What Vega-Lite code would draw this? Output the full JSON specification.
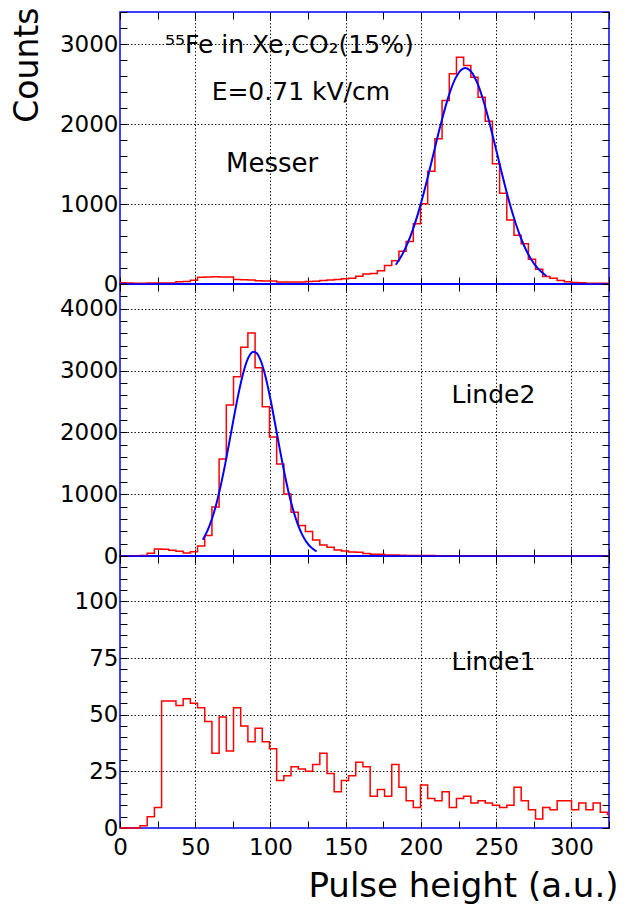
{
  "$schema": "https://vega.github.io/schema/vega-lite/v6.json",
  "background": "white",
  "padding": {"left": 10, "top": 0, "right": 0, "bottom": 0},
  "spacing": 0,
  "bounds": "flush",
  "config": {
    "view": {"stroke": "#0000ff", "strokeWidth": 1.5},
    "font": "DejaVu Sans",
    "axis": {
      "domain": false,
      "tickColor": "black",
      "tickWidth": 1,
      "tickSize": -7,
      "labelFont": "DejaVu Sans",
      "labelFontSize": 23,
      "labelColor": "black",
      "labelOverlap": false,
      "labelFlush": false,
      "gridColor": "black",
      "gridDash": [1.5, 2],
      "gridWidth": 1,
      "titleFont": "DejaVu Sans",
      "titleFontSize": 33,
      "titleFontWeight": "normal",
      "titleColor": "black"
    }
  },
  "datasets": {
    "messer": [
      {"x": 0, "v": 15}, {"x": 3.74, "v": 12}, {"x": 8.52, "v": 10}, {"x": 13.3, "v": 10}, {"x": 18.08, "v": 12},
      {"x": 22.86, "v": 12}, {"x": 27.64, "v": 14}, {"x": 32.42, "v": 14}, {"x": 37.2, "v": 28}, {"x": 41.98, "v": 32},
      {"x": 46.76, "v": 46}, {"x": 51.54, "v": 85}, {"x": 56.32, "v": 88}, {"x": 61.1, "v": 90}, {"x": 65.88, "v": 88},
      {"x": 70.66, "v": 88}, {"x": 75.44, "v": 56}, {"x": 80.22, "v": 52}, {"x": 85, "v": 50}, {"x": 89.78, "v": 40},
      {"x": 94.56, "v": 38}, {"x": 99.34, "v": 36}, {"x": 104.12, "v": 26}, {"x": 108.9, "v": 25}, {"x": 113.68, "v": 25},
      {"x": 118.46, "v": 24}, {"x": 123.24, "v": 30}, {"x": 128.02, "v": 33}, {"x": 132.8, "v": 45}, {"x": 137.58, "v": 50},
      {"x": 142.36, "v": 55}, {"x": 147.14, "v": 65}, {"x": 151.92, "v": 72}, {"x": 156.7, "v": 96}, {"x": 161.48, "v": 125},
      {"x": 166.26, "v": 130}, {"x": 171.04, "v": 165}, {"x": 175.82, "v": 230}, {"x": 180.6, "v": 290}, {"x": 185.38, "v": 410},
      {"x": 190.16, "v": 530}, {"x": 194.94, "v": 752}, {"x": 199.72, "v": 1002}, {"x": 204.5, "v": 1410}, {"x": 209.28, "v": 1815},
      {"x": 214.06, "v": 2294}, {"x": 218.84, "v": 2627}, {"x": 223.62, "v": 2835}, {"x": 228.4, "v": 2731}, {"x": 233.18, "v": 2585},
      {"x": 237.96, "v": 2335}, {"x": 242.74, "v": 2035}, {"x": 247.52, "v": 1502}, {"x": 252.3, "v": 1135}, {"x": 257.08, "v": 800},
      {"x": 261.86, "v": 610}, {"x": 266.64, "v": 502}, {"x": 271.42, "v": 310}, {"x": 276.2, "v": 185}, {"x": 280.98, "v": 94},
      {"x": 285.76, "v": 73}, {"x": 290.54, "v": 44}, {"x": 295.32, "v": 27}, {"x": 300.1, "v": 20}, {"x": 304.88, "v": 15},
      {"x": 309.66, "v": 10}, {"x": 314.44, "v": 10}, {"x": 319.22, "v": 8}, {"x": 324, "v": 8}, {"x": 325, "v": 8}
    ],
    "linde2": [
      {"x": 0, "v": 5}, {"x": 3.74, "v": 5}, {"x": 8.52, "v": 5}, {"x": 13.3, "v": 8}, {"x": 18.08, "v": 43},
      {"x": 22.86, "v": 114}, {"x": 27.64, "v": 110}, {"x": 32.42, "v": 92}, {"x": 37.2, "v": 75}, {"x": 41.98, "v": 50},
      {"x": 46.76, "v": 68}, {"x": 51.54, "v": 162}, {"x": 56.32, "v": 330}, {"x": 61.1, "v": 791}, {"x": 65.88, "v": 1571},
      {"x": 70.66, "v": 2444}, {"x": 75.44, "v": 2899}, {"x": 80.22, "v": 3376}, {"x": 85, "v": 3609}, {"x": 89.78, "v": 3044},
      {"x": 94.56, "v": 2415}, {"x": 99.34, "v": 1923}, {"x": 104.12, "v": 1490}, {"x": 108.9, "v": 1002}, {"x": 113.68, "v": 709},
      {"x": 118.46, "v": 492}, {"x": 123.24, "v": 395}, {"x": 128.02, "v": 259}, {"x": 132.8, "v": 178}, {"x": 137.58, "v": 141},
      {"x": 142.36, "v": 96}, {"x": 147.14, "v": 80}, {"x": 151.92, "v": 65}, {"x": 156.7, "v": 60}, {"x": 161.48, "v": 40},
      {"x": 166.26, "v": 30}, {"x": 171.04, "v": 27}, {"x": 175.82, "v": 18}, {"x": 180.6, "v": 15}, {"x": 185.38, "v": 12},
      {"x": 190.16, "v": 10}, {"x": 194.94, "v": 10}, {"x": 199.72, "v": 8}, {"x": 204.5, "v": 8}, {"x": 209.28, "v": 6},
      {"x": 214.06, "v": 5}, {"x": 218.84, "v": 5}, {"x": 223.62, "v": 5}, {"x": 228.4, "v": 4}, {"x": 233.18, "v": 4},
      {"x": 237.96, "v": 4}, {"x": 242.74, "v": 4}, {"x": 247.52, "v": 4}, {"x": 252.3, "v": 4}, {"x": 257.08, "v": 3},
      {"x": 261.86, "v": 3}, {"x": 266.64, "v": 3}, {"x": 271.42, "v": 3}, {"x": 276.2, "v": 3}, {"x": 280.98, "v": 3},
      {"x": 285.76, "v": 3}, {"x": 290.54, "v": 3}, {"x": 295.32, "v": 3}, {"x": 300.1, "v": 3}, {"x": 304.88, "v": 3},
      {"x": 309.66, "v": 3}, {"x": 314.44, "v": 3}, {"x": 319.22, "v": 3}, {"x": 324, "v": 3}, {"x": 325, "v": 3}
    ],
    "linde1": [
      {"x": 0, "v": 0}, {"x": 3.74, "v": 0}, {"x": 8.52, "v": 0}, {"x": 13.3, "v": 1}, {"x": 18.08, "v": 5},
      {"x": 22.86, "v": 9}, {"x": 27.64, "v": 56}, {"x": 32.42, "v": 56}, {"x": 37.2, "v": 54}, {"x": 41.98, "v": 57},
      {"x": 46.76, "v": 55}, {"x": 51.54, "v": 53}, {"x": 56.32, "v": 47}, {"x": 61.1, "v": 33}, {"x": 65.88, "v": 49},
      {"x": 70.66, "v": 34}, {"x": 75.44, "v": 53}, {"x": 80.22, "v": 45}, {"x": 85, "v": 38}, {"x": 89.78, "v": 44},
      {"x": 94.56, "v": 38}, {"x": 99.34, "v": 35}, {"x": 104.12, "v": 21}, {"x": 108.9, "v": 23}, {"x": 113.68, "v": 27},
      {"x": 118.46, "v": 26}, {"x": 123.24, "v": 25}, {"x": 128.02, "v": 28}, {"x": 132.8, "v": 33}, {"x": 137.58, "v": 24},
      {"x": 142.36, "v": 16}, {"x": 147.14, "v": 21}, {"x": 151.92, "v": 23}, {"x": 156.7, "v": 29}, {"x": 161.48, "v": 27},
      {"x": 166.26, "v": 14}, {"x": 171.04, "v": 17}, {"x": 175.82, "v": 14}, {"x": 180.6, "v": 28}, {"x": 185.38, "v": 18},
      {"x": 190.16, "v": 12}, {"x": 194.94, "v": 9}, {"x": 199.72, "v": 19}, {"x": 204.5, "v": 13}, {"x": 209.28, "v": 12},
      {"x": 214.06, "v": 16}, {"x": 218.84, "v": 9}, {"x": 223.62, "v": 13}, {"x": 228.4, "v": 14}, {"x": 233.18, "v": 11},
      {"x": 237.96, "v": 12}, {"x": 242.74, "v": 11}, {"x": 247.52, "v": 10}, {"x": 252.3, "v": 9}, {"x": 257.08, "v": 10},
      {"x": 261.86, "v": 18}, {"x": 266.64, "v": 12}, {"x": 271.42, "v": 8}, {"x": 276.2, "v": 4}, {"x": 280.98, "v": 9},
      {"x": 285.76, "v": 8}, {"x": 290.54, "v": 12}, {"x": 295.32, "v": 12}, {"x": 300.1, "v": 8}, {"x": 304.88, "v": 11},
      {"x": 309.66, "v": 8}, {"x": 314.44, "v": 11}, {"x": 319.22, "v": 7}, {"x": 324, "v": 6}, {"x": 325, "v": 6}
    ],
    "fitMesser": [
      {"x": 183.3, "v": 240}, {"x": 188, "v": 383}, {"x": 193, "v": 596}, {"x": 198, "v": 877}, {"x": 203, "v": 1218},
      {"x": 208, "v": 1599}, {"x": 213, "v": 1983}, {"x": 218, "v": 2324}, {"x": 223, "v": 2573}, {"x": 228, "v": 2693},
      {"x": 229.5, "v": 2700}, {"x": 233, "v": 2663}, {"x": 238, "v": 2488}, {"x": 243, "v": 2196}, {"x": 248, "v": 1832},
      {"x": 253, "v": 1444}, {"x": 258, "v": 1075}, {"x": 263, "v": 757}, {"x": 268, "v": 503}, {"x": 273, "v": 316},
      {"x": 278, "v": 188}, {"x": 283.4, "v": 100}
    ],
    "fitLinde2": [
      {"x": 55, "v": 262}, {"x": 58, "v": 402}, {"x": 61, "v": 592}, {"x": 64, "v": 839}, {"x": 67, "v": 1144},
      {"x": 70, "v": 1498}, {"x": 73, "v": 1886}, {"x": 76, "v": 2282}, {"x": 79, "v": 2655}, {"x": 82, "v": 2969},
      {"x": 85, "v": 3192}, {"x": 88, "v": 3299}, {"x": 89, "v": 3306}, {"x": 91, "v": 3277}, {"x": 94, "v": 3130},
      {"x": 97, "v": 2873}, {"x": 100, "v": 2536}, {"x": 103, "v": 2151}, {"x": 106, "v": 1754}, {"x": 109, "v": 1375},
      {"x": 112, "v": 1036}, {"x": 115, "v": 751}, {"x": 118, "v": 523}, {"x": 121, "v": 350}, {"x": 124, "v": 225},
      {"x": 127, "v": 139}, {"x": 130.7, "v": 73}
    ]
  },
  "vconcat": [
    {
      "width": 489,
      "height": 272,
      "resolve": {"axis": {"x": "independent", "y": "independent"}},
      "layer": [
        {
          "data": {"values": [{}]},
          "mark": {"type": "rule", "color": "#0000ff", "strokeWidth": 2},
          "encoding": {"y": {"datum": 0, "type": "quantitative", "axis": null}}
        },
        {
          "data": {"name": "messer"},
          "mark": {"type": "line", "interpolate": "step-after", "color": "#ff0000", "strokeWidth": 1.5},
          "encoding": {
            "x": {"field": "x", "type": "quantitative", "scale": {"domain": [0, 325], "nice": false, "zero": false},
              "axis": {"orient": "bottom", "values": [0,25,50,75,100,125,150,175,200,225,250,275,300,325], "labels": false, "title": null, "grid": true,
                "gridOpacity": {"condition": {"test": "datum.value % 50 === 0 && datum.value > 0 && datum.value < 325", "value": 0.9}, "value": 0}}},
            "y": {"field": "v", "type": "quantitative", "scale": {"domain": [0, 3400], "nice": false},
              "axis": {"orient": "left", "values": [0,200,400,600,800,1000,1200,1400,1600,1800,2000,2200,2400,2600,2800,3000,3200,3400], "format": "d",
                "labelExpr": "datum.value % 1000 === 0 ? datum.label : ''", "labelPadding": 9, "grid": true,
                "gridOpacity": {"condition": {"test": "datum.value % 1000 === 0 && datum.value > 0", "value": 0.9}, "value": 0},
                "title": "Counts", "titleX": -83, "titleY": -5, "titleAngle": 270, "titleAlign": "right", "titleBaseline": "alphabetic"}}
          }
        },
        {
          "data": {"name": "fitMesser"},
          "mark": {"type": "line", "interpolate": "monotone", "color": "#0000ff", "strokeWidth": 2},
          "encoding": {
            "x": {"field": "x", "type": "quantitative", "axis": null},
            "y": {"field": "v", "type": "quantitative", "axis": null}
          }
        },
        {
          "data": {"values": [{}]},
          "mark": {"type": "text", "align": "left", "baseline": "alphabetic", "fontSize": 25, "font": "DejaVu Sans", "color": "black"},
          "encoding": {
            "x": {"datum": 29.9, "type": "quantitative",
              "axis": {"orient": "top", "values": [0,25,50,75,100,125,150,175,200,225,250,275,300,325], "labels": false, "grid": false, "title": null}},
            "y": {"datum": 2890, "type": "quantitative",
              "axis": {"orient": "right", "values": [0,200,400,600,800,1000,1200,1400,1600,1800,2000,2200,2400,2600,2800,3000,3200,3400], "labels": false, "grid": false, "title": null}},
            "text": {"value": "⁵⁵Fe in Xe,CO₂(15%)"}
          }
        },
        {
          "data": {"values": [{}]},
          "mark": {"type": "text", "align": "left", "baseline": "alphabetic", "fontSize": 25, "font": "DejaVu Sans", "color": "black"},
          "encoding": {
            "x": {"datum": 60.9, "type": "quantitative", "axis": null},
            "y": {"datum": 2294, "type": "quantitative", "axis": null},
            "text": {"value": "E=0.71 kV/cm"}
          }
        },
        {
          "data": {"values": [{}]},
          "mark": {"type": "text", "align": "left", "baseline": "alphabetic", "fontSize": 26, "font": "DejaVu Sans", "color": "black"},
          "encoding": {
            "x": {"datum": 70.5, "type": "quantitative", "axis": null},
            "y": {"datum": 1398, "type": "quantitative", "axis": null},
            "text": {"value": "Messer"}
          }
        }
      ]
    },
    {
      "width": 489,
      "height": 272,
      "resolve": {"axis": {"x": "independent", "y": "independent"}},
      "layer": [
        {
          "data": {"values": [{}]},
          "mark": {"type": "rule", "color": "#0000ff", "strokeWidth": 2},
          "encoding": {"y": {"datum": 0, "type": "quantitative", "axis": null}}
        },
        {
          "data": {"name": "linde2"},
          "mark": {"type": "line", "interpolate": "step-after", "color": "#ff0000", "strokeWidth": 1.5},
          "encoding": {
            "x": {"field": "x", "type": "quantitative", "scale": {"domain": [0, 325], "nice": false, "zero": false},
              "axis": {"orient": "bottom", "values": [0,25,50,75,100,125,150,175,200,225,250,275,300,325], "labels": false, "title": null, "grid": true,
                "gridOpacity": {"condition": {"test": "datum.value % 50 === 0 && datum.value > 0 && datum.value < 325", "value": 0.9}, "value": 0}}},
            "y": {"field": "v", "type": "quantitative", "scale": {"domain": [0, 4400], "nice": false},
              "axis": {"orient": "left", "values": [0,200,400,600,800,1000,1200,1400,1600,1800,2000,2200,2400,2600,2800,3000,3200,3400,3600,3800,4000,4200,4400], "format": "d",
                "labelExpr": "datum.value % 1000 === 0 ? datum.label : ''", "labelPadding": 9, "grid": true,
                "gridOpacity": {"condition": {"test": "datum.value % 1000 === 0 && datum.value > 0", "value": 0.9}, "value": 0},
                "title": null}}
          }
        },
        {
          "data": {"name": "fitLinde2"},
          "mark": {"type": "line", "interpolate": "monotone", "color": "#0000ff", "strokeWidth": 2},
          "encoding": {
            "x": {"field": "x", "type": "quantitative", "axis": null},
            "y": {"field": "v", "type": "quantitative", "axis": null}
          }
        },
        {
          "data": {"values": [{}]},
          "mark": {"type": "text", "align": "left", "baseline": "alphabetic", "fontSize": 25, "font": "DejaVu Sans", "color": "black"},
          "encoding": {
            "x": {"datum": 220.3, "type": "quantitative",
              "axis": {"orient": "top", "values": [0,25,50,75,100,125,150,175,200,225,250,275,300,325], "labels": false, "grid": false, "title": null}},
            "y": {"datum": 2481, "type": "quantitative",
              "axis": {"orient": "right", "values": [0,200,400,600,800,1000,1200,1400,1600,1800,2000,2200,2400,2600,2800,3000,3200,3400,3600,3800,4000,4200,4400], "labels": false, "grid": false, "title": null}},
            "text": {"value": "Linde2"}
          }
        }
      ]
    },
    {
      "width": 489,
      "height": 272,
      "resolve": {"axis": {"x": "independent", "y": "independent"}},
      "layer": [
        {
          "data": {"name": "linde1"},
          "mark": {"type": "line", "interpolate": "step-after", "color": "#ff0000", "strokeWidth": 1.5},
          "encoding": {
            "x": {"field": "x", "type": "quantitative", "scale": {"domain": [0, 325], "nice": false, "zero": false},
              "axis": {"orient": "bottom", "values": [0,25,50,75,100,125,150,175,200,225,250,275,300,325], "format": "d",
                "labelExpr": "datum.value % 50 === 0 ? datum.label : ''", "labelPadding": 15, "grid": true,
                "gridOpacity": {"condition": {"test": "datum.value % 50 === 0 && datum.value > 0 && datum.value < 325", "value": 0.9}, "value": 0},
                "title": "Pulse height (a.u.)", "titleFontSize": 34, "titleX": 498, "titleY": 68, "titleAlign": "right", "titleBaseline": "alphabetic", "titleAnchor": "end"}},
            "y": {"field": "v", "type": "quantitative", "scale": {"domain": [0, 120], "nice": false},
              "axis": {"orient": "left", "values": [0,5,10,15,20,25,30,35,40,45,50,55,60,65,70,75,80,85,90,95,100,105,110,115,120], "format": "d",
                "labelExpr": "datum.value % 25 === 0 ? datum.label : ''", "labelPadding": 9, "grid": true,
                "gridOpacity": {"condition": {"test": "datum.value % 25 === 0 && datum.value > 0", "value": 0.9}, "value": 0},
                "title": null}}
          }
        },
        {
          "data": {"values": [{}]},
          "mark": {"type": "text", "align": "left", "baseline": "alphabetic", "fontSize": 25, "font": "DejaVu Sans", "color": "black"},
          "encoding": {
            "x": {"datum": 220.3, "type": "quantitative",
              "axis": {"orient": "top", "values": [0,25,50,75,100,125,150,175,200,225,250,275,300,325], "labels": false, "grid": false, "title": null}},
            "y": {"datum": 69.6, "type": "quantitative",
              "axis": {"orient": "right", "values": [0,5,10,15,20,25,30,35,40,45,50,55,60,65,70,75,80,85,90,95,100,105,110,115,120], "labels": false, "grid": false, "title": null}},
            "text": {"value": "Linde1"}
          }
        }
      ]
    }
  ]
}
